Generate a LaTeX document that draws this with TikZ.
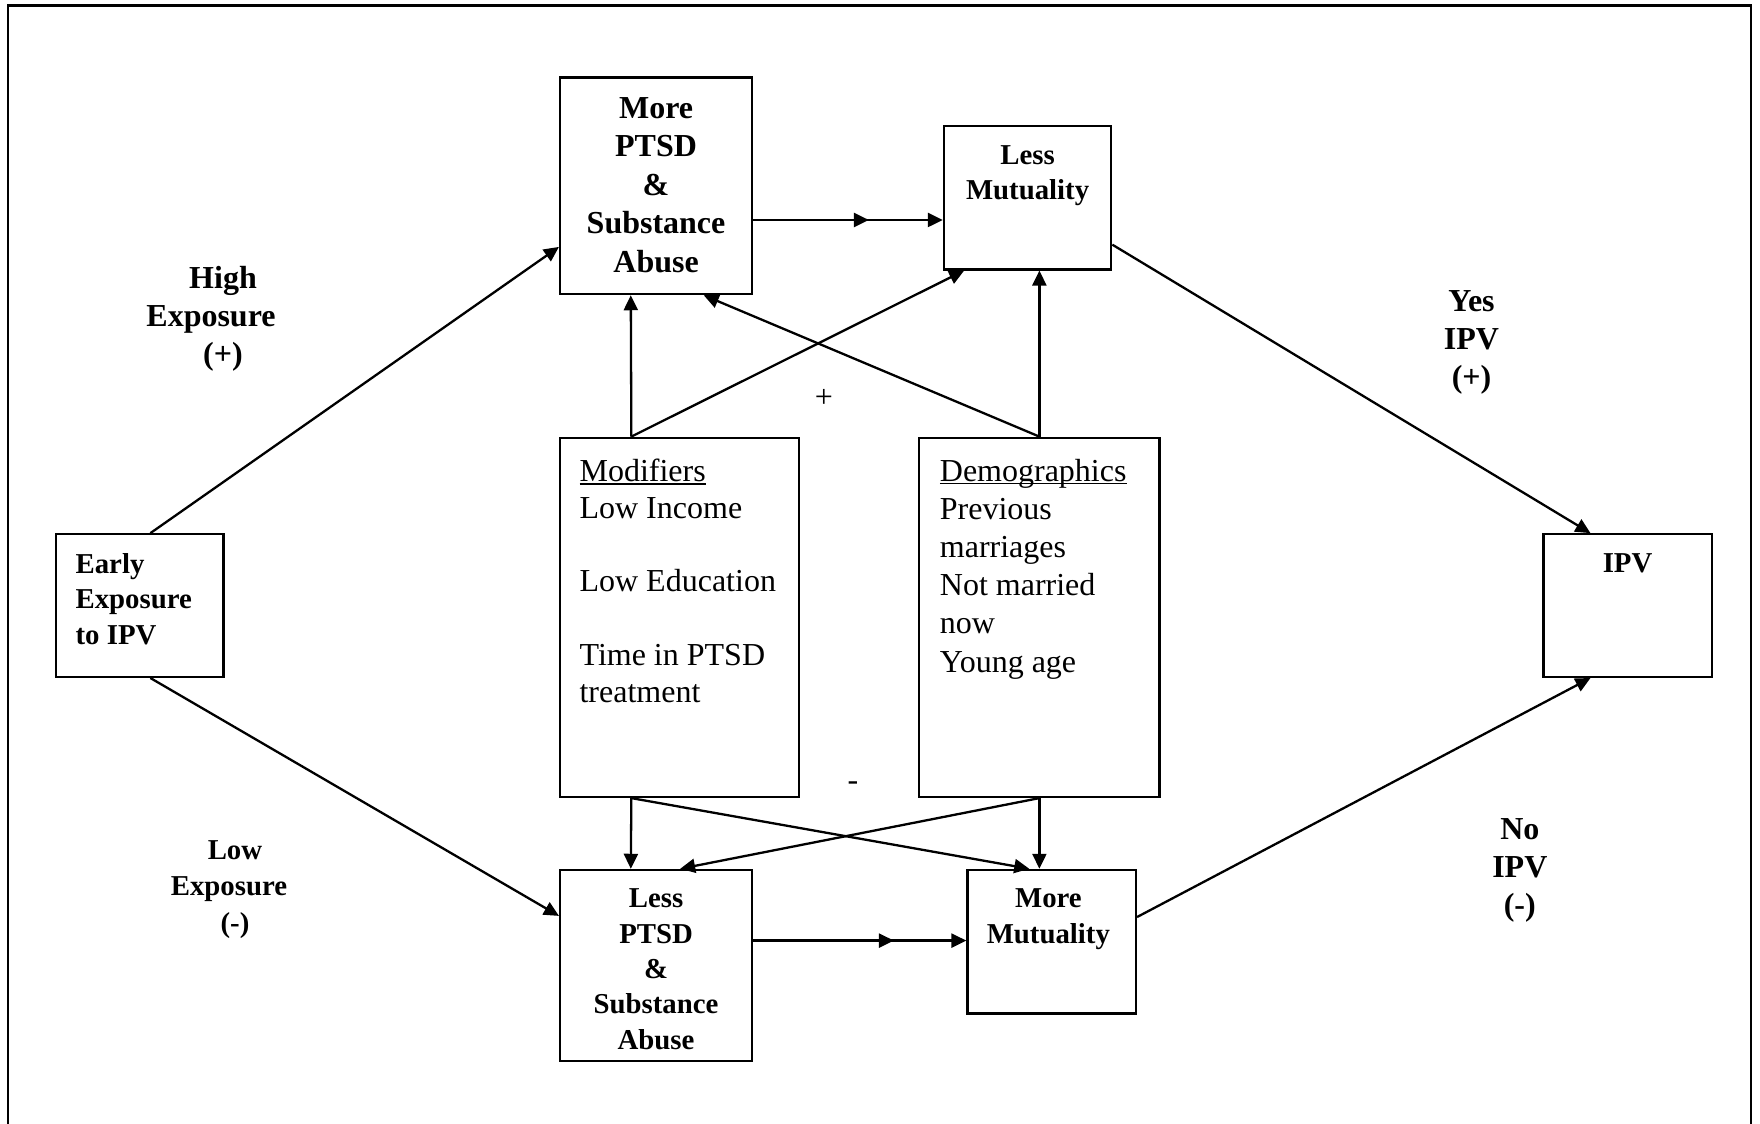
\documentclass[tikz,border=0pt]{standalone}
\usepackage{fontspec}
\setmainfont{Liberation Serif}
\usetikzlibrary{arrows.meta,calc,fit,decorations.markings}
\newcommand{\myul}[1]{\setbox0\hbox{#1}\rlap{\rule[-1.6pt]{\wd0}{0.7pt}}\box0}
\begin{document}
\begin{tikzpicture}[x=0.5612pt,y=-0.5612pt,
  box/.style={draw,line width=1.15pt,inner sep=0pt},
  bt/.style={inner sep=0pt,align=center,font=\bfseries\fontsize{16}{#1}\selectfont},
  bts/.style={inner sep=0pt,align=center,font=\bfseries\fontsize{14.4}{#1}\selectfont},
  bls/.style={inner sep=0pt,align=left,font=\bfseries\fontsize{14.4}{#1}\selectfont},
  rt/.style={inner sep=0pt,align=left,font=\fontsize{16}{#1}\selectfont},
  conn/.style={line width=1.15pt,-{Triangle[length=7.5pt,width=7pt]}},
  midarrow/.style={postaction={decorate},decoration={markings,mark=at position #1 with {\arrow{Triangle[length=7.5pt,width=7pt]}}}}
]
\useasboundingbox (0,0) rectangle (1568,1001);
\fill[white] (0,0) rectangle (1568,1001);
% outer frame (open at the bottom)
\draw[line width=1.3pt] (7,1001) -- (7,5) -- (1560,5) -- (1560,1001);

% boxes
\node[box, fit={(499,69)(670,262)}] (mptsd) {};
\node[box, fit={(841,112)(990,240)}] (lmut) {};
\node[box, fit={(50,476)(199,603)}] (early) {};
\node[box, fit={(1375,476)(1525,603)}] (ipv) {};
\node[box, fit={(499,390)(712,710)}] (mods) {};
\node[box, fit={(819,390)(1033,710)}] (demo) {};
\node[box, fit={(499,775)(670,945)}] (lptsd) {};
\node[box, fit={(862,775)(1012,903)}] (mmut) {};

% box texts
\node[bt=19.2pt, anchor=north] (tmptsd) at (584.5,86.5) {More\\PTSD\\\&\\Substance\\Abuse};
\node[bts=17.4pt, anchor=north] (tlmut) at (915.5,129.5) {Less\\Mutuality};
\node[bls=17.7pt, anchor=north west] (tearly) at (67,492.5) {Early\\Exposure\\to IPV};
\node[bts=17.7pt, anchor=north] (tipv) at (1450,492.5) {IPV};
\node[rt=18.4pt, anchor=north west] (tmods) at (516,408.5) {\myul{Modifiers}\\Low Income\\\mbox{}\\Low Education\\\mbox{}\\Time in PTSD\\treatment};
\node[rt=19.1pt, anchor=north west] (tdemo) at (837,408.5) {\myul{Demographics}\\Previous\\marriages\\Not married\\now\\Young age};
\node[bts=17.7pt, anchor=north] (tlptsd) at (584.5,791.5) {Less\\PTSD\\\&\\Substance\\Abuse};
\node[bts=18pt, anchor=north] (tmmut) at (934,791.5) {More\\Mutuality};

% side labels
\node[bt=19.1pt, anchor=north] (lhigh) at (188,236.5) {\hspace*{12pt}High\\Exposure\\\hspace*{12pt}(+)};
\node[bts=18.2pt, anchor=north] (llow) at (204,748.5) {\hspace*{6pt}Low\\Exposure\\\hspace*{6pt}(-)};
\node[bt=19pt, anchor=north] (lyes) at (1311,258.5) {Yes\\IPV\\(+)};
\node[bt=19pt, anchor=north] (lno) at (1354,728.5) {No\\IPV\\(-)};
\node[inner sep=0pt, font=\fontsize{16}{19}\selectfont] (lplus) at (734,355) {+};
\node[inner sep=0pt, font=\fontsize{16}{19}\selectfont] (lminus) at (760,700) {-};

% connectors from early exposure and to IPV
\draw[conn] ($(early.north west)+(85,0)$) -- ($(mptsd.north west)+(0,152)$);
\draw[conn] ($(early.south west)+(85,0)$) -- ($(lptsd.north west)+(0,42)$);
\draw[conn] ($(lmut.north east)+(0,107)$) -- ($(ipv.north west)+(43,0)$);
\draw[conn] ($(mmut.north east)+(0,43)$) -- ($(ipv.south west)+(43,0)$);

% modifiers / demographics
\coordinate (mt) at ($(mods.north west)+(64.5,0)$);
\coordinate (mb) at ($(mods.south west)+(64.5,0)$);
\draw[conn] (mt) -- ($(mptsd.south west)+(64,0)$);
\draw[conn] (mt) -- ($(lmut.south west)+(19,0)$);
\draw[conn] (demo.north) -- ($(mptsd.south west)+(129,0)$);
\draw[conn] (demo.north) -- (demo.north |- lmut.south);
\draw[conn] (mb) -- ($(lptsd.north west)+(64,0)$);
\draw[conn] (mb) -- ($(mmut.north west)+(56,0)$);
\draw[conn] (demo.south) -- ($(lptsd.north west)+(108,0)$);
\draw[conn] (demo.south) -- (demo.south |- mmut.north);

% horizontal arrows with middle arrowheads
\coordinate (h1) at ($(mptsd.north east)+(0,128)$);
\coordinate (h2) at ($(lptsd.north east)+(0,64)$);
\draw[conn, midarrow=0.61] (h1) -- (lmut.west |- h1);
\draw[conn, midarrow=0.66] (h2) -- (mmut.west |- h2);
\end{tikzpicture}
\end{document}
